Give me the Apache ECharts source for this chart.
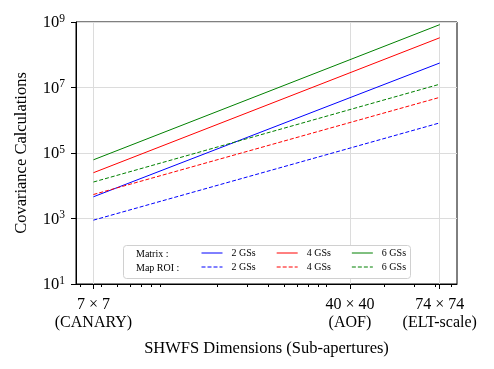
<!DOCTYPE html>
<html>
<head>
<meta charset="utf-8">
<script src="https://cdn.jsdelivr.net/npm/echarts@6/dist/echarts.min.js"></script>
<style>
html, body { margin: 0; padding: 0; background: #fff; }
#chart { width: 494px; height: 369px; }
</style>
</head>
<body>
<div id="chart"></div>
<script>
// x: number of valid sub-apertures (log axis), labelled by SHWFS size
var xValues = [36, 4280];
var xTickValues = [36, 1240, 4280];
var xTickLabels = ['7 × 7\n(CANARY)', '40 × 40\n(AOF)', '74 × 74\n(ELT-scale)'];
var xMinorTicks = [30, 40, 50, 60, 70, 80, 90, 200, 300, 400, 500, 600, 700, 800, 900, 2000, 3000, 4000, 5000];

// covariance calculations at the two ends
var matrix2 = [4.6e3, 5.6e7];
var matrix4 = [2.5e4, 3.3e8];
var matrix6 = [6.2e4, 8.3e8];
var roi2 = [8.9e2, 8.3e5];
var roi4 = [5.4e3, 5.0e6];
var roi6 = [1.3e4, 1.26e7];

var FONT = 'Liberation Serif';

function pairs(ys) {
    var out = [];
    for (var i = 0; i < xValues.length; i++) out.push([xValues[i], ys[i]]);
    return out;
}

function mkSeries(name, ys, color, dashed) {
    return {
        name: name,
        type: 'line',
        symbol: 'none',
        data: pairs(ys),
        lineStyle: { color: color, width: 1, type: dashed ? [4, 2] : 'solid' },
        itemStyle: { color: color },
        silent: true,
        z: 3
    };
}

var legendText = {
    fontFamily: FONT,
    fontSize: 10,
    color: '#000',
    padding: [0, 0, 0, 4]
};

var option = {
    animation: false,
    textStyle: { fontFamily: FONT },
    grid: {
        left: 76, right: 37, top: 22, bottom: 85,
        show: true, borderColor: '#000', borderWidth: 1, backgroundColor: 'transparent'
    },
    xAxis: [
        {
            type: 'log',
            min: 28.3,
            max: 5432,
            axisLine: { lineStyle: { color: '#000', width: 1 } },
            axisTick: { customValues: xTickValues, length: 5, lineStyle: { color: '#000' } },
            axisLabel: {
                customValues: xTickValues,
                fontFamily: FONT, fontSize: 16, color: '#000', lineHeight: 18, margin: 12,
                formatter: function (v) {
                    var best = 0;
                    for (var i = 1; i < xTickValues.length; i++) {
                        if (Math.abs(Math.log(xTickValues[i] / v)) < Math.abs(Math.log(xTickValues[best] / v))) best = i;
                    }
                    return xTickLabels[best];
                }
            },
            splitLine: { show: true, lineStyle: { color: '#dcdcdc', width: 1 } },
            name: 'SHWFS Dimensions (Sub-apertures)',
            nameLocation: 'middle',
            nameGap: 56,
            nameTextStyle: { fontFamily: FONT, fontSize: 16.5, color: '#000' }
        },
        {
            type: 'log',
            min: 28.3,
            max: 5432,
            position: 'bottom',
            axisLine: { show: false },
            axisTick: { customValues: xMinorTicks, length: 3, lineStyle: { color: '#000' } },
            axisLabel: { show: false },
            splitLine: { show: false }
        }
    ],
    yAxis: {
        type: 'log',
        min: 10,
        max: 1e9,
        interval: 2,
        axisLine: { show: true, lineStyle: { color: '#000', width: 1 } },
        axisTick: { show: true, length: 5, lineStyle: { color: '#000' } },
        splitLine: { show: true, lineStyle: { color: '#dcdcdc', width: 1 } },
        axisLabel: {
            margin: 11,
            formatter: function (v) {
                return '{b|10}{s|' + Math.round(Math.log10(v)) + '}';
            },
            rich: {
                b: { fontFamily: FONT, fontSize: 16.5, color: '#000', lineHeight: 19, verticalAlign: 'bottom' },
                s: { fontFamily: FONT, fontSize: 11.5, color: '#000', lineHeight: 11, verticalAlign: 'top' }
            }
        },
        name: 'Covariance Calculations',
        nameLocation: 'middle',
        nameGap: 46,
        nameTextStyle: { fontFamily: FONT, fontSize: 16.5, color: '#000' }
    },
    graphic: [
        {
            type: 'rect',
            shape: { x: 123.5, y: 245.5, width: 287, height: 33, r: 3 },
            style: { fill: '#fff', stroke: '#d0d0d0', lineWidth: 1 },
            z: 10
        },
        {
            type: 'text', left: 136, top: 249, z: 11,
            style: { text: 'Matrix :', fontFamily: FONT, fontSize: 10, fill: '#000' }
        },
        {
            type: 'text', left: 136, top: 263, z: 11,
            style: { text: 'Map ROI :', fontFamily: FONT, fontSize: 10, fill: '#000' }
        }
    ],
    legend: [
        {
            left: 201, top: 248, padding: 0, itemGap: 20.5,
            itemWidth: 21, itemHeight: 12, z: 12,
            itemStyle: { opacity: 0 },
            lineStyle: { width: 1 },
            data: ['Matrix 2 GSs', 'Matrix 4 GSs', 'Matrix 6 GSs'],
            formatter: function (n) { return n.replace('Matrix ', ''); },
            textStyle: legendText,
            selectedMode: false
        },
        {
            left: 201, top: 262, padding: 0, itemGap: 20.5,
            itemWidth: 21, itemHeight: 12, z: 12,
            itemStyle: { opacity: 0 },
            lineStyle: { width: 1 },
            data: ['ROI 2 GSs', 'ROI 4 GSs', 'ROI 6 GSs'],
            formatter: function (n) { return n.replace('ROI ', ''); },
            textStyle: legendText,
            selectedMode: false
        }
    ],
    series: [
        mkSeries('Matrix 2 GSs', matrix2, '#0000ff', false),
        mkSeries('Matrix 4 GSs', matrix4, '#ff0000', false),
        mkSeries('Matrix 6 GSs', matrix6, '#008000', false),
        mkSeries('ROI 2 GSs', roi2, '#0000ff', true),
        mkSeries('ROI 4 GSs', roi4, '#ff0000', true),
        mkSeries('ROI 6 GSs', roi6, '#008000', true)
    ]
};

echarts.init(document.getElementById('chart')).setOption(option);
</script>
</body>
</html>
